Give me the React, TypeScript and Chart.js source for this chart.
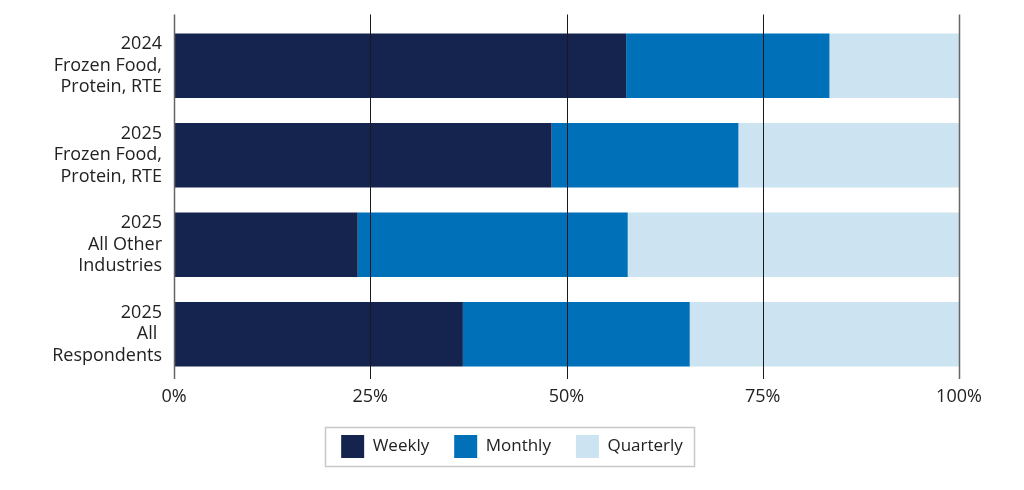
import React, { useEffect, useRef } from "react";
import { Chart, registerables } from "chart.js";

Chart.register(...registerables);

const categories: string[][] = [
  ["2024", "Frozen Food,", "Protein, RTE"],
  ["2025", "Frozen Food,", "Protein, RTE"],
  ["2025", "All Other", "Industries"],
  ["2025", "All ", "Respondents"],
];
const weekly = [57.6, 48.1, 23.4, 36.8];
const monthly = [25.9, 23.8, 34.4, 28.9];
const quarterly = [16.5, 28.1, 42.2, 34.3];
const xTicks = [0, 25, 50, 75, 100];

const COLORS = { weekly: "#14244f", monthly: "#0071b9", quarterly: "#cce3f1" };
const FONT = "'Open Sans', 'Noto Sans', sans-serif";

const gridOver = {
  id: "gridOver",
  afterDatasetsDraw(chart: any) {
    const { ctx, chartArea, scales } = chart;
    const x = scales.x;
    ctx.save();
    xTicks.forEach((v) => {
      const px = Math.round(x.getPixelForValue(v)) + 0.5;
      const edge = v === 0 || v === 100;
      ctx.strokeStyle = edge ? "#666666" : "#1a1a1a";
      ctx.lineWidth = edge ? 1.5 : 1;
      ctx.beginPath();
      ctx.moveTo(px, chartArea.top - 6.5);
      ctx.lineTo(px, chartArea.bottom);
      ctx.stroke();
    });
    ctx.restore();
  },
};

const legendBorder = {
  id: "legendBorder",
  afterDraw(chart: any) {
    const lg = chart.legend;
    if (!lg || !lg.legendHitBoxes || !lg.legendHitBoxes.length) return;
    const hb = lg.legendHitBoxes;
    let l = Infinity, r = -Infinity, t = Infinity, b = -Infinity;
    hb.forEach((h: any) => {
      l = Math.min(l, h.left);
      r = Math.max(r, h.left + h.width);
      t = Math.min(t, h.top);
      b = Math.max(b, h.top + h.height);
    });
    const ctx = chart.ctx;
    ctx.save();
    ctx.strokeStyle = "#c8c8c8";
    ctx.lineWidth = 1.5;
    ctx.strokeRect(Math.round(l - 16) + 0.5, Math.round(t - 8) + 0.5, Math.round(r - l + 27), Math.round(b - t + 16));
    ctx.restore();
  },
};

export default function App() {
  const ref = useRef<HTMLCanvasElement | null>(null);
  useEffect(() => {
    if (!ref.current) return;
    const chart = new Chart(ref.current, {
      type: "bar",
      data: {
        labels: categories,
        datasets: [
          { label: "Weekly", data: weekly, backgroundColor: COLORS.weekly },
          { label: "Monthly", data: monthly, backgroundColor: COLORS.monthly },
          { label: "Quarterly", data: quarterly, backgroundColor: COLORS.quarterly },
        ],
      },
      options: {
        indexAxis: "y",
        animation: false,
        responsive: true,
        maintainAspectRatio: false,
        datasets: { bar: { barPercentage: 0.72, categoryPercentage: 1, borderWidth: 0 } } as any,
        layout: { padding: { left: 0, right: 0, top: 21, bottom: 22 } },
        scales: {
          x: {
            stacked: true,
            min: 0,
            max: 100,
            grid: { display: false, drawTicks: false },
            border: { display: false },
            afterFit: (s: any) => { s.height = 31; },
            ticks: {
              stepSize: 25,
              padding: 7,
              color: "#222222",
              font: { family: FONT, size: 18 },
              callback: (v: any) => v + "%",
            },
          },
          y: {
            stacked: true,
            grid: { display: false, drawTicks: false },
            border: { display: false },
            afterFit: (s: any) => {
              s.width = 174;
              s.paddingTop = 0;
              s.paddingBottom = 0;
            },
            ticks: {
              padding: 12,
              color: "#222222",
              font: { family: FONT, size: 18, lineHeight: 1.2 },
            },
          },
          yRight: {
            type: "linear",
            position: "right",
            display: true,
            grid: { display: false, drawTicks: false },
            border: { display: false },
            ticks: { display: false },
            afterFit: (s: any) => {
              s.width = 65;
              s.paddingTop = 0;
              s.paddingBottom = 0;
            },
          },
        },
        plugins: {
          legend: {
            position: "bottom",
            labels: {
              boxWidth: 23,
              boxHeight: 23,
              padding: 25,
              color: "#222222",
              font: { family: FONT, size: 17 },
            },
          },
          tooltip: { enabled: false },
        },
      },
      plugins: [gridOver, legendBorder],
    });
    return () => chart.destroy();
  }, []);
  return (
    <div style={{ position: "fixed", left: 0, top: 0, width: 1024, height: 490, background: "#fff" }}>
      <canvas ref={ref} />
    </div>
  );
}
